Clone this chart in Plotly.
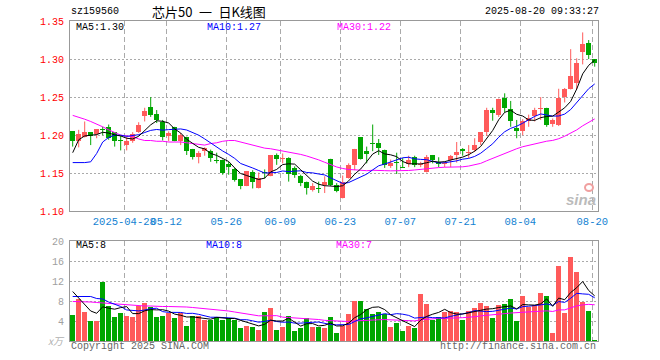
import plotly.graph_objects as go
import pandas as pd

# ---------------- data ----------------
dates = [
    "2025-04-15", "2025-04-16", "2025-04-17", "2025-04-18", "2025-04-21", "2025-04-22", "2025-04-23",
    "2025-04-24", "2025-04-25", "2025-04-28", "2025-04-29", "2025-04-30", "2025-05-06", "2025-05-07",
    "2025-05-08", "2025-05-09", "2025-05-12", "2025-05-13", "2025-05-14", "2025-05-15", "2025-05-16",
    "2025-05-19", "2025-05-20", "2025-05-21", "2025-05-22", "2025-05-23", "2025-05-26", "2025-05-27",
    "2025-05-28", "2025-05-29", "2025-05-30", "2025-06-03", "2025-06-04", "2025-06-05", "2025-06-06",
    "2025-06-09", "2025-06-10", "2025-06-11", "2025-06-12", "2025-06-13", "2025-06-16", "2025-06-17",
    "2025-06-18", "2025-06-19", "2025-06-20", "2025-06-23", "2025-06-24", "2025-06-25", "2025-06-26",
    "2025-06-27", "2025-06-30", "2025-07-01", "2025-07-02", "2025-07-03", "2025-07-04", "2025-07-07",
    "2025-07-08", "2025-07-09", "2025-07-10", "2025-07-11", "2025-07-14", "2025-07-15", "2025-07-16",
    "2025-07-17", "2025-07-18", "2025-07-21", "2025-07-22", "2025-07-23", "2025-07-24", "2025-07-25",
    "2025-07-28", "2025-07-29", "2025-07-30", "2025-07-31", "2025-08-01", "2025-08-04", "2025-08-05",
    "2025-08-06", "2025-08-07", "2025-08-08", "2025-08-11", "2025-08-12", "2025-08-13", "2025-08-14",
    "2025-08-15", "2025-08-18", "2025-08-19", "2025-08-20",
]

opens = [
    1.205, 1.193, 1.198, 1.204, 1.201, 1.208, 1.211, 1.204, 1.193, 1.187,
    1.193, 1.204, 1.225, 1.237, 1.228, 1.217, 1.199, 1.211, 1.193, 1.197,
    1.182, 1.171, 1.179, 1.179, 1.167, 1.167, 1.162, 1.155, 1.142, 1.133,
    1.151, 1.131, 1.151, 1.147, 1.174, 1.169, 1.170, 1.157, 1.147, 1.138,
    1.128, 1.130, 1.135, 1.169, 1.135, 1.118, 1.144, 1.161, 1.197, 1.179,
    1.190, 1.190, 1.181, 1.159, 1.164, 1.158, 1.162, 1.171, 1.161, 1.152,
    1.174, 1.165, 1.162, 1.167, 1.174, 1.182, 1.177, 1.181, 1.191, 1.204,
    1.233, 1.227, 1.249, 1.234, 1.209, 1.206, 1.218, 1.225, 1.234, 1.236,
    1.215, 1.214, 1.250, 1.261, 1.269, 1.309, 1.321, 1.300,
]
highs = [
    1.205, 1.207, 1.218, 1.204, 1.208, 1.211, 1.214, 1.204, 1.199, 1.198,
    1.204, 1.217, 1.236, 1.250, 1.233, 1.220, 1.205, 1.211, 1.203, 1.198,
    1.182, 1.179, 1.184, 1.181, 1.177, 1.168, 1.165, 1.157, 1.142, 1.153,
    1.154, 1.151, 1.155, 1.174, 1.176, 1.176, 1.171, 1.159, 1.148, 1.139,
    1.137, 1.139, 1.146, 1.169, 1.137, 1.147, 1.163, 1.182, 1.197, 1.185,
    1.214, 1.195, 1.181, 1.168, 1.177, 1.170, 1.173, 1.173, 1.165, 1.174,
    1.174, 1.171, 1.165, 1.174, 1.191, 1.183, 1.187, 1.196, 1.204, 1.236,
    1.236, 1.248, 1.255, 1.245, 1.220, 1.221, 1.227, 1.236, 1.250, 1.236,
    1.222, 1.261, 1.262, 1.313, 1.301, 1.335, 1.325, 1.300,
]
lows = [
    1.185, 1.184, 1.197, 1.187, 1.196, 1.200, 1.194, 1.185, 1.180, 1.180,
    1.190, 1.203, 1.218, 1.224, 1.216, 1.193, 1.192, 1.192, 1.187, 1.174,
    1.168, 1.163, 1.173, 1.165, 1.163, 1.148, 1.148, 1.139, 1.129, 1.133,
    1.130, 1.130, 1.143, 1.146, 1.161, 1.163, 1.139, 1.144, 1.133, 1.122,
    1.126, 1.124, 1.124, 1.133, 1.125, 1.117, 1.143, 1.154, 1.168, 1.163,
    1.179, 1.174, 1.157, 1.157, 1.149, 1.157, 1.158, 1.158, 1.158, 1.151,
    1.163, 1.158, 1.158, 1.158, 1.164, 1.173, 1.170, 1.178, 1.187, 1.199,
    1.219, 1.224, 1.230, 1.211, 1.196, 1.200, 1.211, 1.218, 1.220, 1.211,
    1.211, 1.212, 1.243, 1.260, 1.260, 1.293, 1.300, 1.290,
]
closes = [
    1.192, 1.201, 1.204, 1.199, 1.208, 1.207, 1.196, 1.192, 1.192, 1.193,
    1.202, 1.214, 1.232, 1.227, 1.220, 1.198, 1.203, 1.193, 1.200, 1.179,
    1.171, 1.177, 1.183, 1.170, 1.166, 1.150, 1.158, 1.141, 1.133, 1.153,
    1.138, 1.144, 1.150, 1.174, 1.169, 1.170, 1.149, 1.148, 1.137, 1.131,
    1.133, 1.129, 1.138, 1.135, 1.127, 1.139, 1.161, 1.182, 1.169, 1.175,
    1.189, 1.183, 1.161, 1.163, 1.163, 1.157, 1.168, 1.161, 1.162, 1.171,
    1.167, 1.162, 1.164, 1.173, 1.178, 1.179, 1.178, 1.187, 1.204, 1.233,
    1.229, 1.248, 1.236, 1.218, 1.206, 1.218, 1.222, 1.233, 1.236, 1.214,
    1.220, 1.249, 1.261, 1.278, 1.295, 1.320, 1.305, 1.295,
]
volumes = [
    5.3, 8.5, 5.8, 4.0, 4.1, 11.8, 7.1, 4.8, 5.6, 5.1,
    4.8, 7.1, 7.6, 6.8, 4.8, 5.0, 5.7, 4.6, 5.6, 3.1,
    5.1, 5.0, 4.3, 4.3, 4.9, 4.3, 4.7, 4.3, 2.6, 3.1,
    2.8, 2.3, 5.9, 6.7, 2.3, 2.8, 5.1, 2.1, 2.6, 4.7,
    2.9, 2.8, 2.7, 4.9, 1.7, 3.1, 5.5, 8.1, 8.1, 6.5,
    5.5, 5.9, 5.4, 2.9, 3.7, 2.0, 3.1, 2.7, 9.4, 7.4,
    4.2, 4.9, 5.8, 6.1, 5.9, 4.3, 6.1, 6.7, 7.7, 7.1,
    4.7, 7.3, 7.5, 8.5, 4.1, 9.1, 6.9, 7.3, 9.7, 9.1,
    1.7, 15.1, 5.7, 16.9, 13.9, 7.9, 6.1, 0.3,
]

# moving-average values at the start of the window (read from the chart,
# they depend on sessions before the first visible candle)
ma5_head = [1.177, 1.194, 1.199, 1.200]
ma10_head = [1.164, 1.164, 1.164, 1.165, 1.176, 1.191, 1.197, 1.200, 1.200]
ma30_head = [1.226, 1.224, 1.221, 1.218, 1.215, 1.211, 1.207, 1.203, 1.200, 1.199,
             1.198, 1.195, 1.193, 1.193, 1.192, 1.192, 1.191, 1.191, 1.191, 1.190,
             1.189, 1.188, 1.187, 1.189, 1.190, 1.192, 1.193, 1.193, 1.191]
vma5_head = [9.9, 8.6, 7.3, 6.0]
vma10_head = [8.9, 8.9, 8.9, 8.9, 8.5, 8.4, 7.8, 7.3, 6.9]
vma30_head = [7.9, 7.9, 7.8, 7.8, 7.7, 7.6, 7.5, 7.4, 7.3, 7.2,
              7.1, 7.1, 7.0, 7.0, 6.9, 6.9, 6.9, 6.9, 6.8, 6.8,
              6.7, 6.6, 6.4, 6.3, 6.2, 6.1, 6.0, 5.8, 5.6]

price_ticks = [1.10, 1.15, 1.20, 1.25, 1.30, 1.35]
vol_ticks = [4, 8, 12, 16, 20]
date_ticks = ["2025-04-28", "2025-05-12", "2025-05-26", "2025-06-09", "2025-06-23",
              "2025-07-07", "2025-07-21", "2025-08-04", "2025-08-20"]
date_tick_labels = ["2025-04-28", "05-12", "05-26", "06-09", "06-23",
                    "07-07", "07-21", "08-04", "08-20"]

title_code = "sz159560"
title_name = "芯片50\u2002一\u2002日K线图"
timestamp = "2025-08-20 09:33:27"
ma_price_labels = ["MA5:1.30", "MA10:1.27", "MA30:1.22"]
ma_vol_labels = ["MA5:8", "MA10:8", "MA30:7"]

# ---------------- derived ----------------
n = len(dates)
idx = list(range(n))
UP = "#FF5A5A"
DOWN = "#00A600"
GRID = "#AAAAAA"
FRAME = "#999999"
MONO = "Liberation Mono, DejaVu Sans Mono, monospace"


def with_head(series, head):
    vals = series.tolist()
    vals[:len(head)] = head
    return vals


cs = pd.Series(closes)
vs = pd.Series(volumes)
ma5 = with_head(cs.rolling(5).mean(), ma5_head)
ma10 = with_head(cs.rolling(10).mean(), ma10_head)
ma30 = with_head(cs.rolling(30).mean(), ma30_head)
vma5 = with_head(vs.rolling(5).mean(), vma5_head)
vma10 = with_head(vs.rolling(10).mean(), vma10_head)
vma30 = with_head(vs.rolling(30).mean(), vma30_head)

is_up = [c >= o for o, c in zip(opens, closes)]
colors = [UP if u else DOWN for u in is_up]
body_base = [min(o, c) for o, c in zip(opens, closes)]
body_h = [max(abs(c - o), 0.0013) for o, c in zip(opens, closes)]

fig = go.Figure()

# wicks
for flag, col in ((True, UP), (False, DOWN)):
    wx, wy = [], []
    for i in idx:
        if is_up[i] == flag:
            wx += [i, i, None]
            wy += [lows[i], highs[i], None]
    fig.add_trace(go.Scatter(x=wx, y=wy, mode="lines", line=dict(color=col, width=1),
                             hoverinfo="skip", showlegend=False, xaxis="x", yaxis="y"))

# bodies
fig.add_trace(go.Bar(x=idx, y=body_h, base=body_base, width=0.82,
                     marker=dict(color=colors, line=dict(width=0)),
                     showlegend=False, xaxis="x", yaxis="y"))

# price MAs
for vals, col in ((ma30, "#FF00FF"), (ma10, "#0000FF"), (ma5, "#000000")):
    fig.add_trace(go.Scatter(x=idx, y=vals, mode="lines", line=dict(color=col, width=1),
                             showlegend=False, xaxis="x", yaxis="y"))

# volume bars
fig.add_trace(go.Bar(x=idx, y=volumes, width=0.82,
                     marker=dict(color=colors, line=dict(width=0)),
                     showlegend=False, xaxis="x2", yaxis="y2"))
for vals, col in ((vma30, "#FF00FF"), (vma10, "#0000FF"), (vma5, "#000000")):
    fig.add_trace(go.Scatter(x=idx, y=vals, mode="lines", line=dict(color=col, width=1),
                             showlegend=False, xaxis="x2", yaxis="y2"))

tick_pos = [dates.index(d) - 0.4 for d in date_ticks]

# window pixels (the page body margin is removed below)
W, H = 660, 360
L, T = 70, 21
PW, PH = 528, 320
R, B = W - L - PW, H - T - PH


def px(x):
    return (x - L) / PW


def py(y):
    return (T + PH - y) / PH


main_bottom = py(211.3)
vol_top = py(241)

xcommon = dict(range=[-0.45, n - 0.45], tickmode="array", tickvals=tick_pos,
               showgrid=True, gridcolor=GRID, griddash="5px,3px", gridwidth=1,
               showline=True, mirror=True, linecolor=FRAME, linewidth=1,
               zeroline=False, ticks="", fixedrange=True)

fig.update_layout(
    width=W, height=H,
    margin=dict(l=L, r=R, t=T, b=B),
    paper_bgcolor="white", plot_bgcolor="white",
    bargap=0, barmode="overlay",
    showlegend=False,
    hovermode=False,
    xaxis=dict(xcommon, domain=[0, 1], anchor="y", ticktext=date_tick_labels,
               showticklabels=True, tickangle=0,
               tickfont=dict(family=MONO, size=10.5, color="#1482D2")),
    xaxis2=dict(xcommon, domain=[0, 1], anchor="y2", matches="x",
                showticklabels=False),
    yaxis=dict(domain=[main_bottom, 1], range=[1.10, 1.35], tickmode="array",
               tickvals=price_ticks, ticktext=[f"{v:.2f}" for v in price_ticks],
               tickfont=dict(family=MONO, size=10, color="#FF0000"),
               showgrid=True, gridcolor=GRID, griddash="2px,2px", gridwidth=1,
               showline=True, mirror=True, linecolor=FRAME, linewidth=1,
               zeroline=False, ticks="", ticklabelstandoff=3, fixedrange=True),
    yaxis2=dict(domain=[0, vol_top], range=[0, 20], tickmode="array",
                tickvals=vol_ticks, ticktext=[str(v) for v in vol_ticks],
                tickfont=dict(family=MONO, size=10, color="#A0A0A0"),
                showgrid=True, gridcolor=GRID, griddash="2px,2px", gridwidth=1,
                showline=True, mirror=True, linecolor=FRAME, linewidth=1,
                zeroline=False, ticks="", ticklabelstandoff=3, fixedrange=True),
)


def note(text, x, y, anchor="left", color="#000000", size=10, family=MONO, **kw):
    fig.add_annotation(text=text, x=px(x), y=py(y), xref="paper", yref="paper",
                       xanchor=anchor, yanchor="middle", showarrow=False,
                       font=dict(family=family, size=size, color=color), borderpad=0, **kw)


note(title_code, 70, 11)
note(title_name, 151, 11, size=13, family="Noto Sans CJK SC")
note(timestamp, 600, 11, anchor="right")
note(ma_price_labels[0], 75, 27.5)
note(ma_price_labels[1], 206, 27.5, color="#0000FF")
note(ma_price_labels[2], 336, 27.5, color="#FF00FF")
note(ma_vol_labels[0], 75, 245.5)
note(ma_vol_labels[1], 205, 245.5, color="#0000FF")
note(ma_vol_labels[2], 335, 245.5, color="#FF00FF")
note("<i>x万</i>", 66, 340.5, anchor="right", color="#B0B0B0", size=10,
     family="Noto Sans CJK SC")
note("Copyright 2025 SINA.COM", 70, 346, color="#666666")
note("http://finance.sina.com.cn", 597, 346, anchor="right", color="#666666")
note("<b><i>sina</i></b>", 581, 199, anchor="center", color="#BBBBBB", size=15,
     family="Arial, Liberation Sans, sans-serif")
fig.add_shape(type="circle", xref="paper", yref="paper",
              x0=px(585), x1=px(593), y0=py(191), y1=py(184),
              line=dict(color="#F0A0A0", width=2))

fig.write_html("out.html",
               config={"displayModeBar": False, "staticPlot": True},
               post_script="document.body.style.margin='0px';"
                           "document.body.style.overflow='hidden';")
